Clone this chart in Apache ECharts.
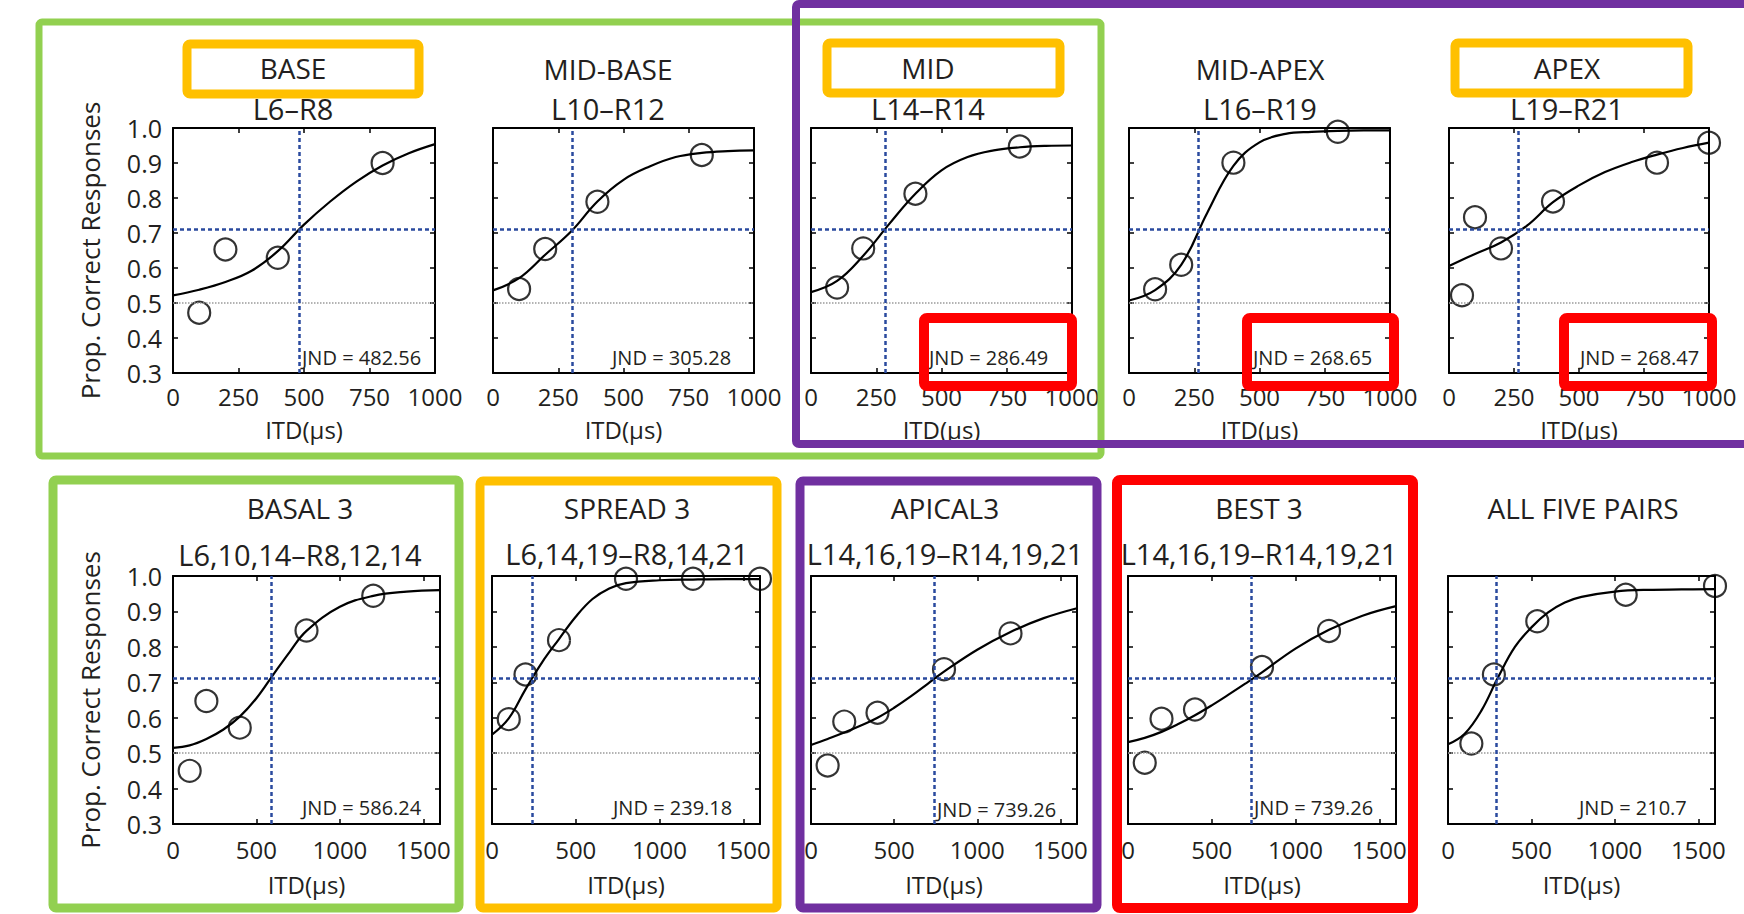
<!DOCTYPE html>
<html>
<head>
<meta charset="utf-8">
<script src="https://cdn.jsdelivr.net/npm/echarts@6/dist/echarts.min.js"></script>
<style>
  html, body { margin: 0; padding: 0; background: #ffffff; }
  #chart { width: 1744px; height: 914px; }
</style>
</head>
<body>
<div id="chart"></div>
<script>
// ---- data ----
var panelNames = ['BASE', 'MID-BASE', 'MID', 'MID-APEX', 'APEX',
  'BASAL 3', 'SPREAD 3', 'APICAL3', 'BEST 3', 'ALL FIVE PAIRS'];
var pairLabels = ['L6–R8', 'L10–R12', 'L14–R14', 'L16–R19', 'L19–R21',
  'L6,10,14–R8,12,14', 'L6,14,19–R8,14,21', 'L14,16,19–R14,19,21', 'L14,16,19–R14,19,21', ''];
var jndValues = ['482.56', '305.28', '286.49', '268.65', '268.47',
  '586.24', '239.18', '739.26', '739.26', '210.7'];
// x where the dotted blue line crosses the curve
var jndLine = [482, 305, 286, 265, 267, 586, 239, 740, 737, 290];
var threshold = 0.707;
var chance = 0.5;

var pointX = [
  [100, 200, 400, 800],
  [100, 200, 400, 800],
  [100, 200, 400, 800],
  [100, 200, 400, 800],
  [50, 100, 200, 400, 800, 1000],
  [100, 200, 400, 800, 1200],
  [100, 200, 400, 800, 1200, 1600],
  [100, 200, 400, 800, 1200],
  [100, 200, 400, 800, 1200],
  [140, 275, 535, 1065, 1600]
];
var pointY = [
  [0.472, 0.653, 0.629, 0.900],
  [0.540, 0.654, 0.789, 0.923],
  [0.544, 0.656, 0.812, 0.947],
  [0.539, 0.609, 0.901, 0.989],
  [0.522, 0.745, 0.656, 0.790, 0.901, 0.958],
  [0.450, 0.647, 0.572, 0.846, 0.944],
  [0.596, 0.722, 0.819, 0.992, 0.992, 0.992],
  [0.465, 0.589, 0.614, 0.737, 0.838],
  [0.473, 0.597, 0.623, 0.743, 0.845],
  [0.527, 0.722, 0.872, 0.947, 0.972]
];

// fitted curves
var curveXTop = [0, 100, 200, 300, 400, 500, 600, 700, 800, 900, 1000];
var curveXBottom = [0, 100, 200, 300, 400, 500, 600, 700, 800, 1000, 1200, 1400, 1600];
var curveY = [
  [0.522, 0.538, 0.560, 0.592, 0.648, 0.724, 0.790, 0.847, 0.893, 0.928, 0.954],
  [0.536, 0.571, 0.638, 0.705, 0.790, 0.852, 0.890, 0.917, 0.929, 0.934, 0.936],
  [0.531, 0.563, 0.635, 0.726, 0.812, 0.879, 0.917, 0.936, 0.945, 0.949, 0.950],
  [0.507, 0.537, 0.609, 0.758, 0.892, 0.959, 0.983, 0.989, 0.992, 0.993, 0.993],
  [0.606, 0.640, 0.673, 0.721, 0.788, 0.836, 0.874, 0.902, 0.924, 0.943, 0.958],
  [0.515, 0.522, 0.540, 0.566, 0.603, 0.655, 0.721, 0.786, 0.845, 0.913, 0.944, 0.956, 0.960],
  [0.552, 0.598, 0.680, 0.757, 0.822, 0.885, 0.935, 0.965, 0.980, 0.988, 0.990, 0.991, 0.991],
  [0.523, 0.540, 0.558, 0.578, 0.600, 0.628, 0.660, 0.695, 0.730, 0.792, 0.842, 0.881, 0.909],
  [0.531, 0.543, 0.560, 0.582, 0.607, 0.635, 0.665, 0.696, 0.728, 0.795, 0.848, 0.888, 0.915],
  [0.525, 0.555, 0.620, 0.714, 0.799, 0.855, 0.897, 0.925, 0.941, 0.956, 0.961, 0.962, 0.963]
];

// ---- layout ----
var FONT = '"Open Sans", "Noto Sans", sans-serif';
var INK = '#231f20';
var BLUE = '#2a4a9e';
var GREEN = '#92d050', ORANGE = '#ffc000', PURPLE = '#7030a0', RED = '#ff0000';

// left, top, width, height
var grids = [
  [173, 128, 262, 245], [493, 128, 261, 245], [811, 128, 261, 245], [1129, 128, 261, 245], [1449, 128, 260, 245],
  [173, 576, 267, 248], [492, 576, 268, 248], [811, 576, 266, 248], [1128, 576, 268, 248], [1448, 576, 267, 248]
];
// title x, title y, pair label y
var titlePos = [
  [293, 68, 108], [608, 69, 108], [928, 68, 108], [1260, 69, 108], [1567, 68, 108],
  [300, 508, 554], [627, 508, 553], [945, 508, 553], [1259, 508, 553], [1583, 508, 553]
];
var jndPos = [
  [302, 357], [612, 357], [929, 357], [1253, 357], [1580, 357],
  [302, 807], [613, 807], [937, 809], [1254, 807], [1579, 807]
];

var option = {
  animation: false,
  backgroundColor: '#ffffff',
  grid: [], xAxis: [], yAxis: [], series: [], graphic: []
};

function axisBase(i) {
  return {
    type: 'value', gridIndex: i,
    splitLine: { show: false },
    axisLine: { show: true, onZero: false, lineStyle: { color: '#000', width: 2 } },
    axisTick: { show: true, inside: true, length: 5, lineStyle: { color: '#000', width: 1.5 } }
  };
}

for (var i = 0; i < 10; i++) {
  var bottomRow = i >= 5;
  var g = grids[i];
  var xmax = bottomRow ? 1600 : 1000;
  var step = bottomRow ? 500 : 250;
  var showY = (i === 0 || i === 5);

  option.grid.push({ left: g[0], top: g[1], width: g[2], height: g[3] });

  option.xAxis.push(Object.assign(axisBase(i), {
    position: 'bottom', min: 0, max: xmax, interval: step,
    name: 'ITD(μs)', nameLocation: 'middle', nameGap: bottomRow ? 50 : 46,
    nameTextStyle: { fontFamily: FONT, fontSize: 24, lineHeight: 20, color: INK },
    axisLabel: {
      show: true, margin: bottomRow ? 15 : 13, fontFamily: FONT, fontSize: 24, lineHeight: 20, color: INK,
      formatter: (function (s) { return function (v) { return v % s === 0 ? String(v) : ''; }; })(step)
    }
  }));
  option.xAxis.push(Object.assign(axisBase(i), {
    position: 'top', min: 0, max: xmax, interval: step, axisLabel: { show: false }
  }));

  option.yAxis.push(Object.assign(axisBase(i), {
    position: 'left', min: 0.3, max: 1.0, interval: 0.1,
    name: showY ? 'Prop. Correct Responses' : '',
    nameLocation: 'middle', nameGap: 70, nameRotate: 90,
    nameTextStyle: { fontFamily: FONT, fontSize: 26, color: INK },
    axisLabel: {
      show: showY, margin: 11, fontFamily: FONT, fontSize: 25, color: INK,
      formatter: function (v) { return v.toFixed(1); }
    }
  }));
  option.yAxis.push(Object.assign(axisBase(i), {
    position: 'right', min: 0.3, max: 1.0, interval: 0.1, axisLabel: { show: false }
  }));

  var cx = bottomRow ? curveXBottom : curveXTop;
  option.series.push({
    type: 'line', xAxisIndex: 2 * i, yAxisIndex: 2 * i,
    data: cx.map(function (x, k) { return [x, curveY[i][k]]; }),
    smooth: 0.4, showSymbol: false, silent: true,
    lineStyle: { color: '#000', width: 2.2 },
    markLine: {
      silent: true, symbol: 'none', animation: false,
      label: { show: false },
      data: [
        { yAxis: chance, lineStyle: { color: '#9a9a9a', type: [1.5, 1.5], width: 1.5 } },
        { yAxis: threshold, lineStyle: { color: BLUE, type: [4, 3], width: 2.5 } },
        { xAxis: jndLine[i], lineStyle: { color: BLUE, type: [4, 3], width: 2.5 } }
      ]
    },
    z: 2
  });
  option.series.push({
    type: 'scatter', xAxisIndex: 2 * i, yAxisIndex: 2 * i,
    data: pointX[i].map(function (x, k) { return [x, pointY[i][k]]; }),
    symbol: 'circle', symbolSize: 22, clip: false, silent: true,
    itemStyle: { color: 'rgba(0,0,0,0)', borderColor: '#000', borderWidth: 2.2 },
    z: 3
  });

  var t = titlePos[i];
  option.graphic.push({
    type: 'text', x: t[0], y: t[1], z: 10,
    style: { text: panelNames[i], fill: INK, font: '28px ' + FONT, align: 'center', verticalAlign: 'middle' }
  });
  if (pairLabels[i]) {
    option.graphic.push({
      type: 'text', x: t[0], y: t[2], z: 10,
      style: { text: pairLabels[i], fill: INK, font: '29px ' + FONT, align: 'center', verticalAlign: 'middle' }
    });
  }
  option.graphic.push({
    type: 'text', x: jndPos[i][0], y: jndPos[i][1], z: 10,
    style: { text: 'JND = ' + jndValues[i], fill: INK, font: '20px ' + FONT, align: 'left', verticalAlign: 'middle' }
  });
}

// highlight boxes drawn over the figure
function box(x, y, w, h, color, lw) {
  return {
    type: 'rect', z: 100, silent: true,
    shape: { x: x, y: y, width: w, height: h, r: 3 },
    style: { fill: 'none', stroke: color, lineWidth: lw }
  };
}
option.graphic.push(
  box(39, 22, 1062, 434, GREEN, 7),
  box(796, 4, 1000, 440, PURPLE, 8),
  box(187, 44, 232, 50, ORANGE, 9),
  box(827, 43, 233, 50, ORANGE, 9),
  box(1455, 43, 233, 50, ORANGE, 9),
  box(924, 318, 148, 68, RED, 10),
  box(1247, 318, 147, 68, RED, 10),
  box(1564, 318, 148, 68, RED, 10),
  box(53, 480, 406, 428, GREEN, 9),
  box(480, 481, 297, 427, ORANGE, 9),
  box(800, 481, 297, 427, PURPLE, 9),
  box(1117, 480, 296, 428, RED, 10)
);

var chart = echarts.init(document.getElementById('chart'), null, { renderer: 'svg' });
chart.setOption(option);
</script>
</body>
</html>
